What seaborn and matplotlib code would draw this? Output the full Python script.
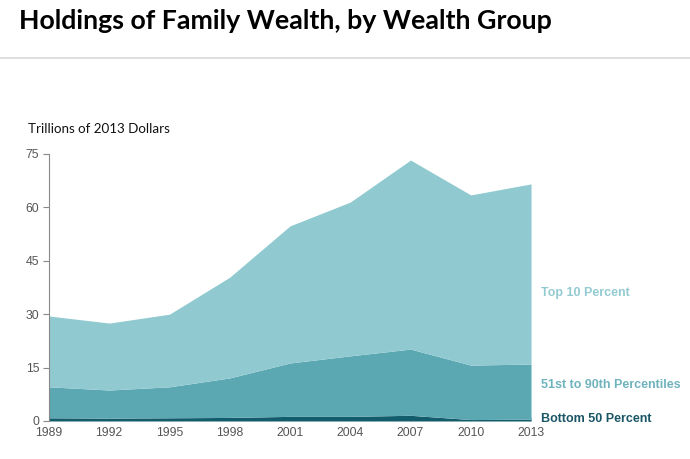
import matplotlib
matplotlib.use("Agg")
import matplotlib.pyplot as plt
import seaborn as sns

# %% data (trillions of 2013 dollars)
years = [1989, 1992, 1995, 1998, 2001, 2004, 2007, 2010, 2013]
bottom_50 = [0.9, 0.8, 0.9, 1.0, 1.3, 1.3, 1.6, 0.4, 0.5]
pct_51_90 = [8.7, 7.9, 8.7, 11.1, 15.0, 17.0, 18.6, 15.3, 15.5]
top_10 = [19.9, 18.8, 20.4, 28.3, 38.5, 43.2, 53.1, 47.8, 50.6]
series_names = ["Bottom 50 Percent", "51st to 90th Percentiles", "Top 10 Percent"]
colors = ["#135c6b", "#5ba8b3", "#90c9d0"]
label_colors = ["#1a5566", "#6fb3bd", "#94cbd2"]

# %% plot
sns.set_theme(style="white")
plt.rcParams["font.family"] = ["Liberation Sans", "DejaVu Sans"]

fig = plt.figure(figsize=(6.9, 4.59), dpi=100)
ax = fig.add_axes([0.071, 0.0828, 0.6986, 0.5817])

ax.stackplot(years, bottom_50, pct_51_90, top_10, colors=colors, linewidth=0)

ax.set_xlim(1989, 2013)
ax.set_ylim(0, 75)
ax.set_xticks(years)
ax.set_yticks([0, 15, 30, 45, 60, 75])
ax.tick_params(axis="both", labelsize=8.8, labelcolor="#555555", colors="#888888")
ax.tick_params(axis="y", direction="out", length=4, width=0.8, left=True, pad=3)
ax.tick_params(axis="x", direction="in", length=3, width=0.8, bottom=True,
               colors="#b8d8dc", labelcolor="#555555", pad=4)
for side in ["top", "right", "bottom"]:
    ax.spines[side].set_visible(False)
ax.spines["left"].set_color("#888888")
ax.spines["left"].set_linewidth(0.8)

# right-side series labels
label_y = [0.5, 10, 36]
for name, y, c in zip(series_names, label_y, label_colors):
    ax.text(2013.5, y, name, color=c, fontsize=9, fontweight="bold",
            va="center", ha="left", clip_on=False)

fig.text(0.041, 0.72, "Trillions of 2013 Dollars", fontsize=9.6, color="#111111",
         family=["Lato", "DejaVu Sans"], va="center")

fig.text(0.028, 0.955, "Holdings of Family Wealth, by Wealth Group",
         fontsize=19.3, fontweight="bold", family=["Lato", "DejaVu Sans"],
         color="black", va="center")
fig.add_artist(plt.Line2D([0, 1], [0.873, 0.873], transform=fig.transFigure,
                          color="#d9d9d9", linewidth=1.2))

fig.savefig("out.png", dpi=100)
